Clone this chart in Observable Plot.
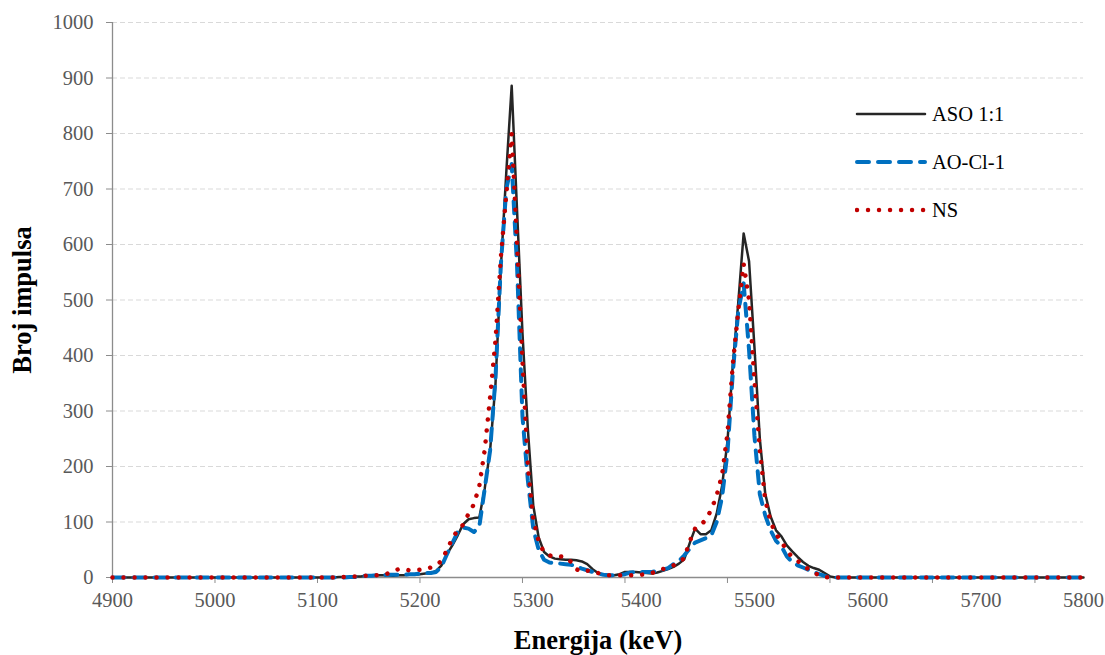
<!DOCTYPE html>
<html><head><meta charset="utf-8">
<script src="https://cdn.jsdelivr.net/npm/d3@7"></script>
<script src="https://cdn.jsdelivr.net/npm/@observablehq/plot@0.6"></script>
<style>
body{margin:0;background:#fff;}
#wrap{position:relative;width:1105px;height:655px;font-family:"Liberation Serif",serif;}
#legend{position:absolute;left:855px;top:90px;}
.row{display:flex;align-items:center;height:48px;font-size:20.5px;color:#000;}
.row svg{margin-right:5px;display:block;}
</style></head><body><div id="wrap"></div>
<script>
// Excel-style category axis: 181 categories (channels), each a spectrum bin
const channel = d3.range(181);
const seriesNames = ["ASO 1:1", "AO-Cl-1", "NS"];
const aso = [
  0,0,0,0,0,0,0,0,0,0,0,0,0,0,0,0,0,0,0,0,
  0,0,0,0,0,0,0,0,0,0,0,0,0,0,0,0,0,0,0,0,
  0,0,1,1,1,2,2,3,3,4,4,4,3,4,4,5,5,6,7,8,
  12,22,42,58,76,96,105,107,108,160,229,349,560,730,886,660,440,267,130,72,
  46,38,34,33,32,32,31,29,24,15,8,5,4,4,6,10,10,10,9,8,
  7,9,12,15,19,25,33,62,88,78,78,85,115,165,245,385,495,620,570,415,
  250,151,110,85,74,58,47,37,28,21,17,14,8,2,0,0,0,0,0,0,
  0,0,0,0,0,0,0,0,0,0,0,0,0,0,0,0,0,0,0,0,
  0,0,0,0,0,0,0,0,0,0,0,0,0,0,0,0,0,0,0,0,
  0
];
const aoCl = [
  0,0,0,0,0,0,0,0,0,0,0,0,0,0,0,0,0,0,0,0,
  0,0,0,0,0,0,0,0,0,0,0,0,0,0,0,0,0,0,0,0,
  0,0,0,0,1,1,2,3,3,4,4,5,5,5,5,6,6,7,8,8,
  10,20,42,62,82,90,88,82,92,160,229,360,565,700,745,560,290,175,88,50,
  32,27,26,25,24,23,20,16,13,10,7,5,4,4,4,6,9,10,10,10,
  10,12,14,17,24,30,40,52,63,67,71,76,100,145,225,370,480,530,410,255,
  150,112,85,66,56,38,28,22,18,14,10,6,3,0,0,0,0,0,0,0,
  0,0,0,0,0,0,0,0,0,0,0,0,0,0,0,0,0,0,0,0,
  0,0,0,0,0,0,0,0,0,0,0,0,0,0,0,0,0,0,0,0,
  0
];
const ns = [
  0,0,0,0,0,0,0,0,0,0,0,0,0,0,0,0,0,0,0,0,
  0,0,0,0,0,0,0,0,0,0,0,0,0,0,0,0,0,0,0,0,
  0,0,1,1,2,2,3,3,4,4,4,7,11,15,15,13,13,14,15,18,
  22,30,50,70,86,95,115,132,165,230,325,427,578,690,800,600,390,200,105,65,
  45,40,37,38,37,28,15,10,12,12,8,6,4,4,4,4,4,4,5,6,
  8,12,15,18,22,27,35,65,88,93,105,122,148,185,260,385,480,565,500,355,
  229,140,100,78,65,48,37,30,22,15,9,4,1,0,0,0,0,0,0,0,
  0,0,0,0,0,0,0,0,0,0,0,0,0,0,0,0,0,0,0,0,
  0,0,0,0,0,0,0,0,0,0,0,0,0,0,0,0,0,0,0,0,
  0
];
const yTicks = [0,100,200,300,400,500,600,700,800,900,1000];
// category labels (keV) and the categories that carry them
const xLabelText = ["4900","5000","5100","5200","5300","5400","5500","5600","5700","5800"];
const xLabelChannel = [0,19,38,57,78,98,119,140,161,180];
// tick marks every 19 categories
const xTickChannel = [0,19,38,57,76,95,114,133,152,171];

const colors = ["#262626", "#0070C0", "#C00000"];
const widths = [2.5, 4, 4.5];
const dashes = [null, "12 9", "0.01 11"];

const table = [aso, aoCl, ns].map((vals, s) =>
  channel.map((c, i) => ({c, v: vals[i], s: seriesNames[s]})));

const axisGray = "#8c8c8c";
const textGray = "#595959";

const chart = Plot.plot({
  width: 1105, height: 655,
  marginLeft: 112, marginRight: 22, marginTop: 22, marginBottom: 78,
  x: {domain: [0, 180]},
  y: {domain: [0, 1000]},
  style: {fontFamily: "Liberation Serif, serif", background: "#fff"},
  marks: [
    Plot.ruleY(yTicks.filter(d => d > 0), {stroke: "#d9d9d9", strokeDasharray: "5 3", strokeWidth: 1}),
    Plot.ruleX([0], {stroke: axisGray, strokeWidth: 1.3}),
    Plot.ruleY([0], {stroke: axisGray, strokeWidth: 1.3}),
    Plot.axisY({ticks: yTicks, tickSize: 6, tickPadding: 13, stroke: axisGray, fill: textGray, fontSize: 20.5, label: null, tickFormat: d => String(d)}),
    Plot.axisX({ticks: xTickChannel, tickSize: 6, stroke: axisGray, fill: "none", label: null}),
    Plot.axisX({ticks: xLabelChannel, tickSize: 0, tickPadding: 15, fill: textGray, fontSize: 20.5, label: null,
      tickFormat: d => xLabelText[xLabelChannel.indexOf(d)]}),
    ...table.map((rows, s) => Plot.line(rows, {
      x: "c", y: "v", stroke: colors[s], strokeWidth: widths[s],
      strokeDasharray: dashes[s], strokeLinecap: "round", strokeLinejoin: "round"
    })),
    Plot.text(["Energija (keV)"], {frameAnchor: "bottom", dy: 63, lineAnchor: "middle", textAnchor: "middle", fontSize: 26.5, fontWeight: "bold", fill: "#000"}),
    Plot.text(["Broj impulsa"], {frameAnchor: "left", dx: -90, rotate: -90, lineAnchor: "middle", textAnchor: "middle", fontSize: 26.5, fontWeight: "bold", fill: "#000"})
  ]
});
const wrap = document.getElementById("wrap");
wrap.appendChild(chart);

// Legend
const legend = document.createElement("div");
legend.id = "legend";
seriesNames.forEach((name, s) => {
  const row = document.createElement("div");
  row.className = "row";
  const svg = d3.create("svg").attr("width", 72).attr("height", 12);
  svg.append("line").attr("x1", 2).attr("x2", 70).attr("y1", 6).attr("y2", 6)
    .attr("stroke", colors[s]).attr("stroke-width", widths[s])
    .attr("stroke-linecap", "round")
    .attr("stroke-dasharray", dashes[s]);
  row.appendChild(svg.node());
  const t = document.createElement("span");
  t.textContent = name;
  row.appendChild(t);
  legend.appendChild(row);
});
wrap.appendChild(legend);
</script></body></html>
